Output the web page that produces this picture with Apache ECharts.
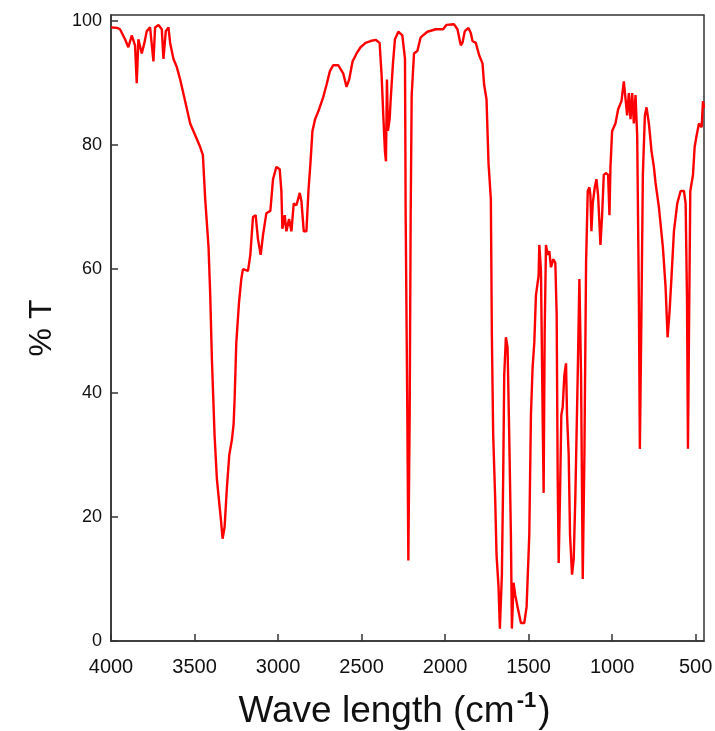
<!DOCTYPE html>
<html>
<head>
<meta charset="utf-8">
<script src="https://cdn.jsdelivr.net/npm/echarts@6/dist/echarts.min.js"></script>
<style>
html,body{margin:0;padding:0;background:#fff;}
#chart{width:715px;height:731px;}
</style>
</head>
<body>
<div id="chart"></div>
<script>
const wavenumbers = [4000,3960,3946,3916,3896,3876,3856,3846,3836,3816,3800,3786,3766,3746,3736,3716,3696,3686,3672,3656,3646,3626,3606,3586,3556,3526,3496,3466,3450,3436,3416,3406,3396,3380,3366,3352,3340,3332,3320,3306,3292,3276,3266,3260,3250,3234,3220,3210,3180,3166,3150,3134,3120,3104,3090,3070,3046,3030,3010,2990,2980,2974,2960,2950,2934,2920,2906,2890,2870,2860,2846,2830,2818,2806,2794,2778,2754,2730,2710,2690,2670,2640,2610,2590,2574,2554,2530,2506,2476,2446,2416,2392,2380,2370,2360,2354,2348,2342,2332,2324,2312,2300,2280,2256,2240,2236,2226,2220,2212,2206,2200,2186,2176,2166,2146,2106,2056,2012,1992,1946,1926,1906,1896,1882,1860,1846,1836,1816,1796,1776,1766,1752,1740,1726,1720,1712,1700,1692,1680,1672,1660,1652,1646,1636,1626,1616,1606,1600,1590,1580,1566,1546,1526,1512,1496,1486,1476,1466,1456,1440,1436,1426,1416,1410,1404,1396,1386,1376,1366,1352,1340,1332,1326,1320,1312,1304,1296,1286,1276,1270,1260,1252,1240,1230,1220,1206,1196,1186,1176,1166,1156,1146,1136,1130,1124,1116,1104,1094,1084,1070,1060,1050,1036,1024,1016,1010,1000,980,964,944,930,920,910,900,890,880,870,860,850,840,834,826,816,804,794,780,764,750,740,720,696,680,668,656,644,630,610,590,570,560,552,546,540,532,516,506,494,480,464,456,450];
const transmittance = [99.0,98.9,98.7,97.1,95.8,97.7,96.1,90.0,97.1,94.8,96.5,98.4,99.0,93.5,99.0,99.4,98.7,93.9,98.4,99.0,96.5,93.9,92.6,90.6,87.1,83.5,81.6,79.7,78.4,71.3,63.5,55.8,45.5,33.2,26.1,22.3,19.0,16.5,18.4,24.8,30.0,32.5,35.0,39.0,48.1,54.5,58.4,60.0,59.7,62.3,68.4,68.7,64.8,62.3,65.5,69.0,69.4,74.5,76.5,76.1,72.6,66.5,68.7,66.1,68.1,66.1,70.6,70.3,72.3,71.0,66.1,66.1,72.6,77.1,82.3,84.2,85.8,87.7,89.7,91.9,92.9,92.9,91.6,89.4,90.6,93.5,94.8,95.8,96.5,96.8,97.0,96.5,91.3,84.8,79.0,77.4,90.6,82.3,84.2,88.1,93.2,97.1,98.3,97.7,93.9,68.7,36.5,13.0,36.5,68.7,88.1,94.8,94.5,95.2,97.4,98.3,98.7,98.7,99.4,99.5,98.7,96.1,96.5,98.4,98.9,98.1,96.8,96.5,94.5,93.2,89.7,87.4,77.1,71.3,49.4,33.2,22.9,13.9,8.7,2.0,10.7,26.8,42.9,49.0,47.4,33.2,17.1,2.0,9.4,7.4,5.5,2.9,2.9,5.5,17.1,36.5,44.2,48.1,55.8,59.0,63.9,59.7,36.5,23.9,49.4,63.9,62.3,62.9,60.3,61.6,61.0,52.6,26.8,12.6,23.5,36.5,37.7,42.9,44.8,36.5,30.0,17.1,10.7,13.2,23.5,42.9,58.4,42.9,10.0,30.0,61.0,72.6,73.2,71.9,66.1,70.6,73.2,74.5,71.9,63.9,68.7,75.2,75.5,75.2,68.7,76.5,82.3,83.5,85.8,87.1,90.3,90.0,84.8,88.4,84.2,88.4,83.5,88.1,81.6,55.8,31.0,49.4,75.2,84.8,86.1,83.5,79.0,76.5,73.9,70.0,63.5,57.1,49.0,53.2,59.0,66.1,70.6,72.6,72.6,70.6,55.8,31.0,49.4,72.6,75.2,79.7,81.6,83.5,82.9,87.1,86.0];
const xTicks = [4000,3500,3000,2500,2000,1500,1000,500];
const yTicks = [0,20,40,60,80,100];
const xTitle = 'Wave length (cm';
const yTitle = '% T';

const seriesData = wavenumbers.map((w, i) => [w, transmittance[i]]);
const chart = echarts.init(document.getElementById('chart'), null, {renderer: 'canvas'});
const font = 'Liberation Sans, Arial, sans-serif';
chart.setOption({
  animation: false,
  backgroundColor: '#fff',
  grid: {left: 111, right: 11, top: 15, bottom: 90, show: true, borderColor: '#333', borderWidth: 1.5,
    backgroundColor: 'transparent', containLabel: false, outerBoundsMode: 'none'},
  xAxis: {
    type: 'value', inverse: true, min: 450, max: 4000,
    axisLine: {show: true, lineStyle: {color: '#333', width: 1.5}},
    axisTick: {show: true, inside: true, length: 7, customValues: xTicks, lineStyle: {color: '#333', width: 1.5}},
    axisLabel: {customValues: xTicks, fontFamily: font, fontSize: 20, color: '#111', margin: 16,
      formatter: v => String(v)},
    splitLine: {show: false},
    name: '{t|' + xTitle + '}{s|-1}{t|)}',
    nameLocation: 'middle', nameGap: 49,
    nameTextStyle: {padding: [0, 26, 0, 0], rich: {
      t: {fontFamily: font, fontSize: 37, color: '#111', verticalAlign: 'bottom', lineHeight: 40},
      s: {fontFamily: font, fontSize: 22, fontWeight: 'bold', color: '#111', verticalAlign: 'top', padding: [0, 2, 22, 2], lineHeight: 40}
    }}
  },
  yAxis: {
    type: 'value', min: 0, max: 101,
    axisLine: {show: true, lineStyle: {color: '#333', width: 1.5}},
    axisTick: {show: true, inside: true, length: 7, customValues: yTicks, lineStyle: {color: '#333', width: 1.5}},
    axisLabel: {customValues: yTicks, fontFamily: font, fontSize: 18, color: '#111', margin: 9,
      formatter: v => (v % 20 === 0 ? String(v) : '')},
    splitLine: {show: false},
    name: yTitle, nameLocation: 'middle', nameGap: 53, nameRotate: 90,
    nameTextStyle: {fontFamily: font, fontSize: 32, color: '#111'}
  },
  series: [{
    type: 'line', data: seriesData, showSymbol: false, symbol: 'none',
    lineStyle: {color: '#f00', width: 2.4}, clip: true
  }]
});
</script>
</body>
</html>
